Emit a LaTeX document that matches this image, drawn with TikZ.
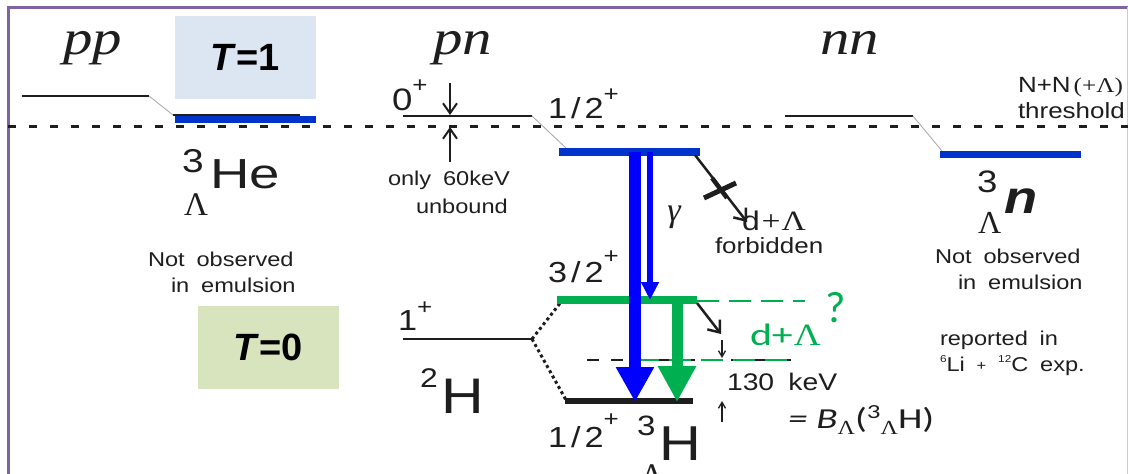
\documentclass[tikz,border=0pt]{standalone}
\usepackage{fontspec}
\usetikzlibrary{arrows.meta}
\setmainfont{Liberation Sans}
\newfontfamily\ar{Liberation Sans}[FakeStretch=1.18,WordSpace=1.8]
\newfontfamily\arw{Liberation Sans}[FakeStretch=1.3]
\newfontfamily\tm{Liberation Serif}
\newfontfamily\tmst{Liberation Serif}[FakeStretch=1.2]
\newfontfamily\cb{Carlito}
\newfontfamily\cbst{Carlito}[FakeStretch=1.35]
\newcommand{\fs}[1]{\fontsize{#1}{#1}\selectfont}
\definecolor{framepurple}{RGB}{128,100,162}
\definecolor{boxblue}{RGB}{220,230,242}
\definecolor{boxgreen}{RGB}{215,228,189}
\definecolor{levblue}{RGB}{0,51,204}
\definecolor{arrblue}{RGB}{0,0,255}
\definecolor{ogreen}{RGB}{0,176,80}
\definecolor{ink}{RGB}{30,30,30}
\tikzset{
  txt/.style={inner sep=0pt, outer sep=0pt, anchor=base west, text=ink},
  lev/.style={draw=ink, line width=2.5pt},
  levb/.style={draw=levblue, line width=8pt},
  levg/.style={draw=ogreen, line width=8pt},
  conn/.style={draw=gray!70, line width=0.8pt},
  thresh/.style={draw=ink, line width=3pt, dash pattern=on 8pt off 13pt},
  gdash/.style={draw=ogreen, line width=2pt, dash pattern=on 22pt off 10pt},
  kdash/.style={draw=ink, line width=2pt, dash pattern=on 12pt off 12pt},
  barb/.style={draw=ink, line width=2.5pt, -{Straight Barb[length=10pt,width=16pt]}},
  smallbarb/.style={draw=ink, line width=2pt, -{Straight Barb[length=10pt,width=14pt]}},
  tinybarb/.style={draw=ink, line width=1.3pt, -{Straight Barb[length=6pt,width=7pt]}},
}
\begin{document}
\begin{tikzpicture}[x=1pt,y=-1pt]
\clip (0,0) rectangle (1128,474);
\fill[white] (0,0) rectangle (1128,474);
% frame
\draw[framepurple, line width=3pt] (8,474) -- (8,7) -- (1128,7);
\draw[gray!40, line width=1pt] (1127,7) -- (1127,474);
% isospin boxes
\fill[boxblue] (175,16) rectangle (316,99);
\node[inner sep=0pt] (t1) at (245.5,57.5) {\fs{38}\bfseries\textit{T}=1};
\fill[boxgreen] (198,306) rectangle (339,389);
\node[inner sep=0pt] (t0) at (268.5,347.5) {\fs{38}\bfseries\textit{T}=0};
% threshold
\draw[thresh] (8,126) -- (1128,126);
% pp / He
\coordinate (ppL) at (22,96); \coordinate (ppR) at (149,96);
\coordinate (heL) at (173,115); \coordinate (heR) at (300,115);
\coordinate (hebL) at (175,119.5); \coordinate (hebR) at (316,119.5);
\draw[lev] (ppL) -- (ppR);
\draw[conn] (ppR) -- (heL);
\draw[lev] (heL) -- (heR);
\draw[levb, line width=7pt] (hebL) -- (hebR);
% pn
\coordinate (pnL) at (403,116); \coordinate (pnR) at (532,116);
\coordinate (hbL) at (559,152); \coordinate (hbR) at (700,152);
\draw[lev] (pnL) -- (pnR);
\draw[conn] (pnR) -- (566,148);
\draw[levb] (hbL) -- (hbR);
% nn
\coordinate (nnL) at (785,116); \coordinate (nnR) at (913,116);
\coordinate (nbL) at (940,154.5); \coordinate (nbR) at (1081,154.5);
\draw[lev] (nnL) -- (nnR);
\draw[conn] (nnR) -- (942,151);
\draw[levb, line width=7pt] (nbL) -- (nbR);
% deuteron / hypertriton
\coordinate (dL) at (403,339); \coordinate (dR) at (532,339);
\coordinate (gL) at (557,300); \coordinate (gR) at (697,300);
\coordinate (gsL) at (565,401); \coordinate (gsR) at (693,401);
\draw[lev] (dL) -- (dR);
\draw[draw=ink, line width=3pt, dash pattern=on 3pt off 3pt] (dR) -- (561,302);
\draw[draw=ink, line width=3pt, dash pattern=on 3pt off 3pt] (dR) -- (566,400);
\draw[kdash] (587,360) -- (800,360);
\draw[gdash] (637,360) -- (792,360);
\draw[gdash] (697,301) -- (805,301);
\draw[levg] (gL) -- (gR);
\draw[draw=ink, line width=6pt] (gsL) -- (gsR);
% gamma arrows
\draw[arrblue, line width=12pt, -{Triangle[width=36pt,length=35pt]}] (635,152) -- (635,402);
\draw[arrblue, line width=6pt, -{Triangle[width=17pt,length=18pt]}] (650,152) -- (650,300);
\draw[ogreen, line width=11pt, -{Triangle[width=36pt,length=36pt]}] (677,300) -- (677,402);
% forbidden decay
\coordinate (fa) at (695,155); \coordinate (fb) at (747,222);
\draw[barb] (fa) -- (fb);
\draw[ink, line width=5pt] (704,198) -- (736,183);
\draw[ink, line width=4.5pt] (712,178) -- (727,198);
% d+Lambda arrow
\draw[barb] (697,303) -- (721,334);
% 130 keV arrows
\draw[tinybarb] (722,340) -- (722,358);
\draw[tinybarb] (722,422) -- (722,401);
% 60 keV arrows
\draw[smallbarb] (450,83) -- (450,115);
\draw[smallbarb] (450,162) -- (450,127);
% labels
\node[txt] (pp) at (63,54) {\tmst\itshape\fs{49}pp};
\node[txt] (pn) at (433,54) {\tmst\itshape\fs{49}pn};
\node[txt] (nn) at (820,54) {\tmst\itshape\fs{49}nn};
\node[txt] (he3) at (182,172) {\ar\fs{33}3};
\node[txt] (heLam) at (184,215) {\tm\fs{33}Λ};
\node[txt] (he) at (210,188) {\arw\fs{42}He};
\node[txt] (n3) at (977,192) {\ar\fs{31}3};
\node[txt] (nLam) at (978,233) {\tm\fs{32}Λ};
\node[txt] (nsym) at (1004,213) {\ar\fs{46}\bfseries\itshape n};
\node[txt] (no1) at (148,266) {\ar\fs{20}Not observed};
\node[txt] (no2) at (171,292) {\ar\fs{20}in emulsion};
\node[txt] (no3) at (935,263) {\ar\fs{20}Not observed};
\node[txt] (no4) at (958,289) {\ar\fs{20}in emulsion};
\node[txt] (rep1) at (940,345) {\ar\fs{20}reported in};
\node[txt] (rep2) at (940,371) {\ar\fs{20}\raisebox{9pt}{\fs{10}6}Li \raisebox{1pt}{\fs{14}+} \raisebox{9pt}{\fs{10}12}C exp.};
\node[txt] (zero) at (392,110) {\ar\fs{31}0\raisebox{18pt}{\fs{22}+}};
\node[txt] (only) at (388,185) {\ar\fs{20}only 60keV};
\node[txt] (unb) at (416,213) {\ar\fs{20}unbound};
\node[txt] (jh) at (548,118) {\ar\fs{29}1\kern4pt/\kern4pt2\raisebox{17pt}{\fs{22}+}};
\node[txt] (jg) at (548,282) {\ar\fs{29}3\kern4pt/\kern4pt2\raisebox{19pt}{\fs{22}+}};
\node[txt] (jl) at (548,447) {\ar\fs{29}1\kern4pt/\kern4pt2\raisebox{21pt}{\fs{22}+}};
\node[txt] (jd) at (398,330) {\ar\fs{29}1\raisebox{16pt}{\fs{22}+}};
\node[inner sep=0pt, text=ink] (gam) at (674,217) {\tm\itshape\fs{34}γ};
\node[txt] (dl) at (742,230) {\ar\fs{27}d\kern2pt{\tmst\fs{28}+\kern1pt Λ}};
\node[txt] (forb) at (715,253) {\ar\fs{22}forbidden};
\node[txt] (kev) at (727,390) {\ar\fs{24}130 keV};
\node[txt] (h2s) at (420,387) {\ar\fs{27}2};
\node[txt] (h2) at (441,413) {\ar\fs{50}H};
\node[txt] (h3s) at (637,435) {\ar\fs{28}3};
\node[txt] (h3) at (659,460) {\ar\fs{49}H};
\node[txt] (h3L) at (640,486) {\tm\fs{33}Λ};
\node[txt] (bl) at (788,428) {\cbst\fs{29}\itshape= B\raisebox{-6pt}{\tmst\fs{20}\upshape Λ}\upshape(\raisebox{10pt}{\fs{20}3}\raisebox{-6pt}{\tmst\fs{20}Λ}H)};
\node[txt, text=ogreen] (gdl) at (750,345) {\cbst\fs{31}d+\kern1pt{\tmst Λ}};
\node[txt, text=ogreen] (qm) at (825,322) {\cb\fs{44}?};
\node[txt] (nn1) at (1018,92) {\ar\fs{22}N+N\kern3pt{\tmst\fs{21}(+Λ)}};
\node[txt] (nn2) at (1018,118) {\ar\fs{22}threshold};
\end{tikzpicture}
\end{document}
